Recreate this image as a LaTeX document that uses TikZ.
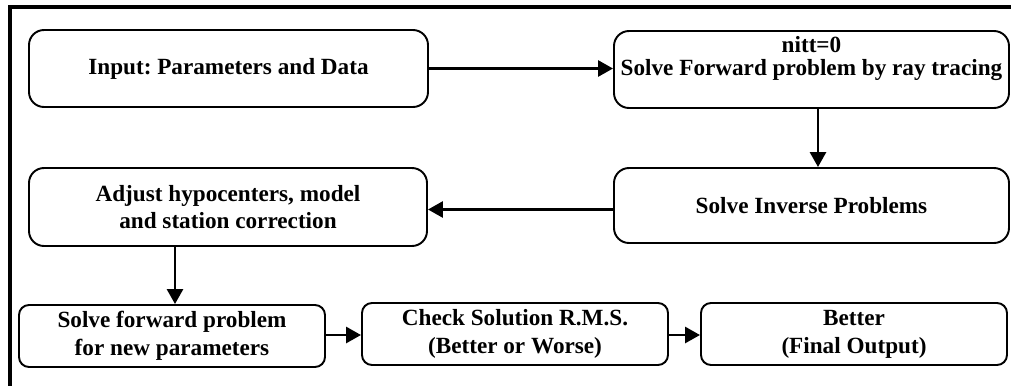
\documentclass[tikz,border=0pt]{standalone}
\usepackage{fontspec}
\setmainfont{Liberation Serif}
\usetikzlibrary{arrows.meta}
\frenchspacing

\begin{document}
\begin{tikzpicture}[
    every node/.style={font=\fontsize{13.2}{15.8}\selectfont\bfseries},
    stepbox/.style={draw=black, line width=1.1pt, rounded corners=0.3cm, align=center, inner sep=0pt},
    lowbox/.style={stepbox, rounded corners=0.2cm, minimum width=6.12cm, minimum height=1.24cm},
    flow/.style={-{Triangle[length=0.3cm, width=0.32cm]}, line width=1.6pt}]
    \useasboundingbox (0,0) rectangle (20.22,-7.7);
    \clip (0,0) rectangle (20.22,-7.7);

    % Main frame
    \draw[line width=1.8pt] (0.2,-8) -- (0.2,-0.14) -- (20.5,-0.14);

    % Steps in loop
    \node[stepbox, minimum width=7.98cm, minimum height=1.54cm] (input) at (4.57,-1.37) {Input: Parameters and Data};

    \node[stepbox, minimum width=7.9cm, minimum height=1.54cm] (forward) at (16.23,-1.39) {};
    \node[align=center, inner sep=0pt] (fwdtext) at ([yshift=0.22cm]forward.center) {nitt=0\\[-3pt]Solve Forward problem by ray tracing};

    \node[stepbox, minimum width=7.9cm, minimum height=1.5cm] (inverse) at (16.23,-4.11) {Solve Inverse Problems};

    \node[stepbox, minimum width=7.96cm, minimum height=1.56cm] (adjust) at (4.56,-4.14) {Adjust hypocenters, model\\and station correction};

    % Bottom row
    \node[lowbox] (newfwd) at (3.44,-6.72) {Solve forward problem\\for new parameters};
    \node[lowbox] (checkrms) at (10.3,-6.68) {Check Solution R.M.S.\\(Better or Worse)};
    \node[lowbox] (better) at (17.08,-6.68) {Better\\(Final Output)};

    % Arrows
    \draw[flow] (input.east) -- (input.east -| forward.west);
    \draw[flow] (forward.south -| 16.36,0) -- (inverse.north -| 16.36,0);
    \draw[flow] (inverse.west |- 0,-4.19) -- (adjust.east |- 0,-4.19);
    \draw[flow] (adjust.south -| 3.5,0) -- (newfwd.north -| 3.5,0);
    \draw[flow] (newfwd.east |- 0,-6.7) -- (checkrms.west |- 0,-6.7);
    \draw[flow] (checkrms.east |- 0,-6.7) -- (better.west |- 0,-6.7);
\end{tikzpicture}
\end{document}
